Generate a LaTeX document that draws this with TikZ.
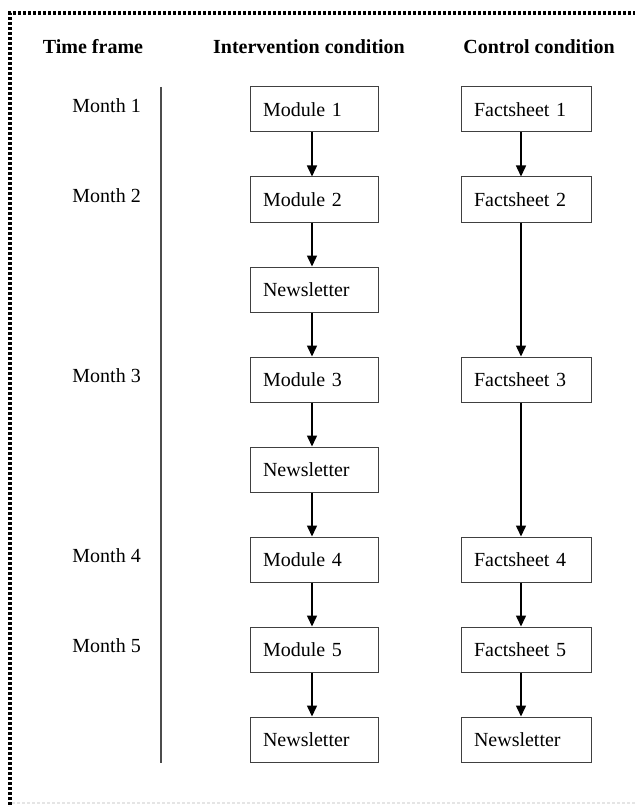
\documentclass[tikz,border=0pt]{standalone}
\usepackage{fontspec}
\setmainfont{Liberation Serif}
\usetikzlibrary{arrows.meta}
\begin{document}
\begin{tikzpicture}[x=1pt,y=-1pt,
  box/.style={draw=black!75,line width=1pt,minimum width=128pt,minimum height=45pt,
    text width=102pt,align=left,inner sep=0pt,font=\fontsize{20}{22}\selectfont},
  hdr/.style={font=\fontsize{20}{22}\selectfont\bfseries,inner sep=0pt},
  mon/.style={font=\fontsize{20}{22}\selectfont,anchor=east,inner sep=0pt},
  arr/.style={line width=1.5pt,-{Triangle[width=10pt,length=11pt]}}]
\useasboundingbox (0,0) rectangle (635,805);
% border
\draw[line width=3.5pt,dash pattern=on 3pt off 2pt] (10,805) -- (10,13) -- (635,13);
\draw[black!10,line width=2pt,dash pattern=on 3pt off 2pt] (12,803) -- (635,803);
% headers
\node[hdr] (h1) at (93,47) {Time frame};
\node[hdr] (h2) at (309,47) {Intervention condition};
\node[hdr] (h3) at (539,47) {Control condition};
% timeline
\coordinate (t0) at (161,87);
\coordinate (t1) at (161,763);
\draw[black!70,line width=1.5pt] (t0) -- (t1);
% months
\node[mon] (m1) at (141,106) {Month 1};
\node[mon] (m2) at (141,196) {Month 2};
\node[mon] (m3) at (141,376) {Month 3};
\node[mon] (m4) at (141,556) {Month 4};
\node[mon] (m5) at (141,646) {Month 5};
% intervention
\node[box] (i1) at (314,109.5) {Module 1};
\node[box] (i2) at (314,199.5) {Module 2};
\node[box] (i3) at (314,289.5) {Newsletter};
\node[box] (i4) at (314,379.5) {Module 3};
\node[box] (i5) at (314,469.5) {Newsletter};
\node[box] (i6) at (314,559.5) {Module 4};
\node[box] (i7) at (314,649.5) {Module 5};
\node[box] (i8) at (314,739.5) {Newsletter};
% control
\node[box,minimum width=130pt,text width=104pt] (c1) at (526,109.5) {Factsheet 1};
\node[box,minimum width=130pt,text width=104pt] (c2) at (526,199.5) {Factsheet 2};
\node[box,minimum width=130pt,text width=104pt] (c3) at (526,379.5) {Factsheet 3};
\node[box,minimum width=130pt,text width=104pt] (c4) at (526,559.5) {Factsheet 4};
\node[box,minimum width=130pt,text width=104pt] (c5) at (526,649.5) {Factsheet 5};
\node[box,minimum width=130pt,text width=104pt] (c6) at (526,739.5) {Newsletter};
% arrows
\foreach \a/\b in {i1/i2,i2/i3,i3/i4,i4/i5,i5/i6,i6/i7,i7/i8}
  \draw[arr] ([xshift=-2pt]\a.south) -- ([xshift=-2pt]\b.north);
\foreach \a/\b in {c1/c2,c2/c3,c3/c4,c4/c5,c5/c6}
  \draw[arr] ([xshift=-5pt]\a.south) -- ([xshift=-5pt]\b.north);
\end{tikzpicture}
\end{document}
